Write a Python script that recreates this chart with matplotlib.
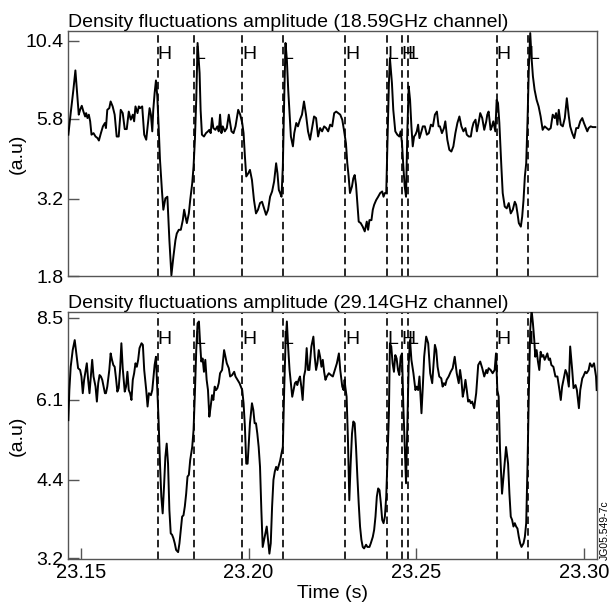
import matplotlib
matplotlib.use("Agg")
import matplotlib.pyplot as plt
import matplotlib.transforms as mtrans
from matplotlib.ticker import NullLocator
import numpy as np

plt.rcParams['font.family'] = ['Liberation Sans', 'DejaVu Sans']

t0 = 23.15  # s, times below are ms after t0

# 18.59GHz channel
top_t = [-3.7,-3.0,-2.2,-1.6,-1.0,-0.6,-0.2,0.3,0.8,1.3,
         1.6,2.0,2.4,2.8,3.2,3.8,4.4,5.0,5.4,6.0,
         6.6,7.2,7.5,7.9,8.5,8.9,9.5,10.1,10.7,11.3,
         11.9,12.5,13.1,13.7,14.3,14.9,15.5,15.9,16.3,16.9,
         17.3,17.7,18.3,18.9,19.5,20.1,20.5,20.9,21.3,21.6,
         22.0,22.4,22.8,23.2,23.6,24.2,24.6,25.2,25.8,26.4,
         27.0,27.6,28.2,28.6,29.2,29.8,30.4,30.8,31.2,31.6,
         32.2,32.6,33.2,33.6,34.0,34.4,34.8,35.4,35.7,36.1,
         36.7,37.3,37.9,38.3,38.7,39.1,39.5,40.1,40.7,41.1,
         41.5,41.9,42.3,42.9,43.5,44.1,44.5,44.9,45.5,46.1,
         46.9,47.5,48.1,48.5,48.9,49.3,49.9,50.4,51.0,51.6,
         52.2,52.8,53.4,54.0,54.6,55.2,55.8,56.4,57.0,57.6,
         58.2,58.6,59.0,59.4,59.8,60.2,60.6,61.0,61.4,61.8,
         62.2,62.6,63.2,63.6,64.2,64.7,
         65.3,65.9,66.5,67.1,67.7,68.3,68.9,69.5,70.1,70.7,
         71.3,71.9,72.5,73.1,73.7,74.3,74.9,75.5,76.1,76.7,
         77.3,77.9,78.4,79.0,79.4,79.8,80.2,80.8,81.2,81.6,
         82.0,82.4,82.8,83.4,84.0,84.6,85.2,85.6,86.0,86.6,
         87.0,87.4,88.0,88.6,89.2,89.8,90.2,90.6,91.0,91.4,
         91.8,92.1,92.7,93.1,93.7,94.3,94.9,95.3,95.7,96.1,
         96.5,96.9,97.3,97.7,98.1,98.5,98.9,99.3,99.7,100.1,
         100.5,100.9,101.5,101.9,102.5,103.1,103.7,104.3,104.9,105.5,
         106.1,106.6,107.0,107.6,108.2,108.6,109.2,109.8,110.4,111.0,
         111.6,112.2,112.8,113.4,114.0,114.6,115.0,115.6,116.2,116.6,
         117.0,117.6,118.0,118.6,119.0,119.6,120.2,120.8,121.1,121.5,
         122.1,122.5,122.9,123.5,123.9,124.3,124.7,125.3,125.7,126.3,
         126.9,127.5,128.1,128.7,129.3,129.7,130.1,130.5,131.1,131.5,
         131.9,132.3,132.7,133.1,133.5,133.9,134.3,134.7,135.2,135.8,
         136.4,137.0,137.6,138.2,138.8,139.4,140.0,140.6,141.2,141.6,
         142.0,142.4,143.0,143.6,144.2,144.8,145.4,145.8,146.4,147.0,
         147.6,148.2,148.8,149.4,149.9,150.5,150.9,151.3,151.9,152.5,
         153.3]
top_v = [5.16,6.06,7.21,8.33,6.86,5.99,6.21,6.40,6.13,5.91,
         6.06,5.84,5.99,5.70,5.16,5.22,5.09,5.03,4.94,5.22,
         5.49,5.63,5.42,6.21,6.29,6.61,6.37,5.99,5.09,5.09,
         6.21,6.06,5.38,5.38,6.13,5.77,5.99,5.70,6.37,6.06,
         6.37,6.29,6.37,5.16,4.97,5.70,6.29,5.99,5.29,6.21,
         7.03,7.73,6.86,5.49,4.28,3.38,2.95,3.21,3.25,2.35,
         1.81,2.08,2.35,2.47,2.54,2.54,2.73,2.95,2.80,2.67,
         2.87,3.17,3.59,4.07,4.97,6.69,10.22,8.17,6.21,5.16,
         5.09,5.22,5.29,5.35,5.22,5.84,5.42,5.35,5.49,5.29,
         5.99,5.22,5.49,5.29,5.42,5.99,5.63,5.29,5.22,5.49,
         6.21,5.99,5.63,5.22,4.39,3.78,3.87,3.97,3.68,3.17,
         2.87,2.95,3.10,3.13,2.98,2.84,2.95,3.25,3.38,3.64,
         4.17,3.87,3.42,3.34,3.25,4.07,6.69,10.22,9.02,7.21,
         6.06,5.09,4.73,5.22,5.63,5.49,
         5.77,5.99,6.61,5.99,5.29,4.97,5.42,5.91,5.84,5.09,
         5.42,5.29,5.49,5.42,5.29,5.56,5.49,6.06,6.13,6.06,
         5.99,5.77,5.35,4.84,4.17,3.78,3.34,3.51,3.73,3.82,
         3.55,3.10,2.70,2.67,2.60,2.51,2.70,2.54,2.73,2.73,
         2.95,3.06,3.17,3.25,3.34,3.38,3.25,3.34,3.34,4.97,
         7.58,9.13,7.58,6.21,5.29,5.16,5.09,5.29,4.84,4.07,
         3.51,3.25,5.35,7.39,6.69,5.49,4.73,5.09,5.16,5.29,
         5.56,5.03,5.29,5.49,5.49,5.16,5.22,5.56,5.49,5.99,
         6.13,5.49,5.49,5.22,5.42,5.70,4.97,4.61,4.55,4.73,
         5.22,5.63,5.91,5.49,5.29,5.42,5.16,5.09,5.09,5.42,
         5.63,5.77,5.29,5.70,6.06,5.84,5.35,5.70,5.99,6.13,
         5.35,5.49,5.70,5.29,6.69,6.53,5.63,4.07,3.34,3.02,
         2.98,3.10,2.87,2.95,3.13,3.06,2.87,2.67,2.60,2.80,
         3.17,3.78,4.17,5.77,8.58,11.0,9.13,7.97,7.21,6.69,
         6.37,5.91,5.35,5.49,5.42,5.35,5.42,5.99,5.84,6.06,
         5.56,6.21,5.56,5.49,5.84,6.77,5.91,5.49,5.22,5.03,
         5.42,5.42,5.70,5.84,5.63,5.42,5.29,5.42,5.49,5.46,
         5.46]

# 29.14GHz channel
bot_t = [-3.7,-3.4,-3.0,-2.4,-1.8,-1.2,-0.8,-0.2,0.2,0.6,
         1.0,1.4,1.8,2.2,2.6,3.0,3.4,3.8,4.4,4.8,
         5.2,5.6,6.0,6.4,6.8,7.2,7.5,7.9,8.5,8.9,
         9.3,9.7,10.1,10.5,10.9,11.3,11.7,12.1,12.5,13.1,
         13.5,13.9,14.3,14.7,15.1,15.5,15.9,16.3,16.7,17.1,
         17.5,18.1,18.5,18.9,19.5,19.9,20.3,20.9,21.3,21.6,
         22.0,22.4,22.8,23.2,23.6,24.0,24.4,24.8,25.2,25.6,
         26.0,26.4,26.8,27.2,27.6,28.0,28.4,29.0,29.4,29.8,
         30.2,30.6,31.0,31.4,31.8,32.2,32.6,33.2,33.6,34.0,
         34.4,34.8,35.2,35.5,35.9,36.3,36.7,37.1,37.5,37.9,
         38.3,38.7,39.1,39.5,39.9,40.3,40.7,41.1,41.5,42.1,
         42.7,43.1,43.5,44.1,44.5,45.1,45.7,46.1,46.7,47.3,
         47.7,48.1,48.5,48.9,49.3,49.7,50.0,50.4,51.0,51.4,
         51.8,52.2,52.6,53.0,53.4,53.8,54.2,54.8,55.4,55.8,
         56.2,56.6,57.0,57.4,57.8,58.2,58.6,59.0,59.4,59.8,
         60.2,60.6,61.0,61.4,61.8,62.2,62.6,63.0,63.4,63.8,
         64.2,64.5,64.9,
         65.3,65.7,66.1,66.5,66.9,67.3,67.7,68.1,68.7,69.3,
         69.7,70.1,70.5,70.9,71.3,71.7,72.1,72.5,72.9,73.3,
         73.9,74.5,75.1,75.7,76.3,76.9,77.3,77.9,78.3,78.6,
         78.8,79.2,79.6,80.0,80.4,80.8,81.2,81.6,82.0,82.4,
         82.8,83.2,83.6,84.0,84.4,85.0,85.4,86.0,86.4,87.0,
         87.4,87.8,88.2,88.6,89.0,89.4,89.8,90.2,90.6,91.0,
         91.4,91.8,92.1,92.5,92.9,93.3,93.7,94.1,94.5,94.9,
         95.3,95.7,96.1,96.5,96.9,97.3,97.7,98.1,98.5,99.1,
         99.7,100.1,100.5,100.9,101.5,101.9,102.3,102.9,103.5,104.1,
         104.7,105.1,105.5,105.9,106.3,106.8,107.4,107.8,108.2,108.6,
         109.0,109.6,110.2,110.8,111.4,112.0,112.6,113.0,113.4,113.8,
         114.2,114.6,115.0,115.4,115.8,116.2,116.6,117.2,117.8,118.4,
         119.0,119.6,120.2,120.8,121.1,121.5,122.1,122.7,123.3,123.7,
         124.1,124.5,124.9,125.5,126.1,126.7,127.3,127.7,128.1,128.5,
         128.9,129.3,129.7,130.1,130.5,130.9,131.3,131.9,132.3,132.7,
         133.1,133.5,133.9,134.3,134.7,135.1,135.4,135.8,136.2,136.6,
         137.0,137.4,137.8,138.2,138.6,139.0,139.4,139.8,140.2,140.8,
         141.4,142.0,142.6,143.0,143.4,143.8,144.4,144.8,145.4,145.8,
         146.4,146.8,147.4,147.8,148.4,148.8,149.4,149.7,150.3,150.7,
         151.3,151.7,152.3,152.9,153.5,153.7]
bot_v = [5.61,6.34,6.97,7.46,7.77,7.26,6.93,6.88,6.70,6.26,
         6.61,6.83,7.07,6.61,6.26,6.70,7.17,6.70,6.43,6.05,
         6.52,6.74,6.70,6.61,6.43,6.26,6.26,6.43,6.88,7.36,
         7.17,7.02,6.97,6.65,6.30,6.39,6.88,7.67,6.93,6.30,
         6.43,6.83,6.34,6.26,6.09,6.61,6.79,7.07,6.97,7.17,
         7.52,7.67,7.62,6.88,6.34,5.93,6.26,6.21,6.34,6.61,
         7.02,7.26,6.34,5.57,4.70,4.11,3.84,4.28,4.83,5.10,
         4.70,3.89,3.54,3.52,3.47,3.40,3.31,3.28,3.40,3.59,
         3.79,3.81,3.95,4.16,4.46,4.49,4.77,5.03,5.39,6.26,
         7.46,8.32,8.38,7.77,7.12,7.21,6.83,7.17,6.61,6.34,
         5.69,5.93,6.21,6.09,6.43,6.34,6.39,6.52,6.79,6.88,
         7.46,7.26,7.07,6.93,6.70,6.74,6.83,6.70,6.61,6.52,
         6.43,6.34,6.01,5.46,4.70,4.70,5.03,5.54,6.01,5.85,
         5.54,5.54,5.31,5.03,4.64,3.89,3.35,3.49,3.64,3.45,
         3.26,3.40,3.95,4.40,4.55,4.64,4.58,4.67,4.76,4.90,
         5.03,6.34,7.67,8.38,7.52,6.88,6.52,6.17,6.34,6.52,
         6.56,6.47,6.61,
         6.70,6.43,6.09,6.70,6.88,7.52,6.88,6.88,7.57,7.88,
         7.26,6.88,7.07,7.46,7.26,6.97,7.17,6.83,6.61,6.70,
         6.79,6.74,6.70,6.88,7.07,7.36,6.88,6.43,6.34,6.61,
         6.43,6.17,5.17,4.05,4.70,5.31,5.58,5.54,5.03,4.46,
         4.00,3.64,3.45,3.35,3.33,3.38,3.35,3.35,3.40,3.49,
         3.59,3.79,4.11,4.25,4.22,4.00,3.74,3.69,3.79,4.11,
         4.83,5.77,7.67,7.57,7.07,6.83,7.31,7.21,6.88,6.74,
         7.26,7.36,5.93,5.10,4.34,5.54,7.07,7.77,7.17,6.79,
         6.34,6.43,6.34,6.70,5.77,6.43,7.26,7.88,7.67,6.79,
         6.52,7.07,7.62,7.46,6.97,6.70,6.65,6.43,6.52,6.47,
         6.61,6.70,6.83,6.93,7.26,6.79,6.52,6.88,6.61,6.17,
         6.34,6.61,6.34,6.05,6.09,6.01,6.05,5.89,6.26,7.02,
         7.12,6.93,6.70,6.88,6.79,6.93,6.88,6.79,6.88,7.36,
         6.34,6.17,4.97,4.16,4.58,5.03,4.70,4.16,3.79,3.74,
         3.64,3.69,3.64,3.61,3.49,3.40,3.35,3.40,3.49,3.69,
         4.70,6.34,8.10,8.78,8.32,7.77,7.26,7.46,7.12,6.88,
         7.41,7.26,7.31,7.17,7.26,7.36,7.17,7.21,7.02,6.97,
         6.70,6.70,6.34,6.09,6.43,6.61,6.88,6.79,6.43,7.57,
         6.88,6.39,6.47,6.34,5.89,6.34,6.65,6.70,6.83,6.79,
         6.88,7.07,6.97,7.07,6.70,6.34]

# transition markers (ms after t0)
mark_t = [22.9, 33.8, 48.1, 60.2, 78.7, 91.2, 95.6, 97.4, 123.9, 133.2]
mark_lbl = ['H', 'L', 'H', 'L', 'H', 'L', 'H', 'L', 'H', 'L']

titles = ['Density fluctuations amplitude (18.59GHz channel)',
          'Density fluctuations amplitude (29.14GHz channel)']
top_ticks = [1.8, 3.2, 5.8, 10.4]
bot_ticks = [3.2, 4.4, 6.1, 8.5]
x_ticks = [23.15, 23.20, 23.25, 23.30]

fig = plt.figure(figsize=(6.13, 6.15), dpi=100)
ax1 = fig.add_axes([0.1104, 0.5512, 0.863, 0.3989])
ax2 = fig.add_axes([0.1104, 0.0911, 0.863, 0.4016])

series = [(ax1, top_t, top_v, (1.8, 11.2), top_ticks, 0.885),
          (ax2, bot_t, bot_v, (3.19, 8.71), bot_ticks, 0.870)]

for i, (ax, tt, vv, ylim, yt, ylab) in enumerate(series):
    t = t0 + np.array(tt) / 1000.0
    ax.plot(t, vv, color='black', lw=1.4, zorder=3)
    trans = mtrans.blended_transform_factory(ax.transData, ax.transAxes)
    for m, lbl in zip(mark_t, mark_lbl):
        tm = t0 + m / 1000.0
        ax.axvline(tm, color='black', lw=1.2, linestyle=(0, (4.5, 2.5)), zorder=2)
        ax.text(tm, ylab, lbl, transform=trans, fontsize=14, ha='left', va='baseline')
    ax.set_yscale('log')
    ax.set_ylim(*ylim)
    ax.set_yticks(yt, labels=[str(v) for v in yt])
    ax.yaxis.set_minor_locator(NullLocator())
    ax.set_xlim(23.1461, 23.3037)
    ax.set_xticks(x_ticks, labels=['%.2f' % x for x in x_ticks])
    ax.xaxis.set_minor_locator(NullLocator())
    ax.tick_params(axis='y', direction='in', length=8, width=1, color='#555555',
                   labelsize=14, pad=3)
    ax.tick_params(axis='x', direction='in', length=8, width=1, color='#555555',
                   labelsize=14.5, pad=3)
    for sp in ax.spines.values():
        sp.set_color('#555555')
        sp.set_linewidth(1)
    ax.set_title(titles[i], loc='left', fontsize=14, pad=2)
    ax.set_ylabel('(a.u)', fontsize=14)
    ax.yaxis.set_label_coords(-0.08, 0.5)

ax1.tick_params(axis='x', bottom=False, labelbottom=False)
ax2.set_xlabel('Time (s)', fontsize=14, labelpad=2)

fig.text(0.987, 0.089, 'JG05.549-7c', rotation=90, fontsize=7.5,
         ha='center', va='bottom')

fig.savefig('out.png', dpi=100)
